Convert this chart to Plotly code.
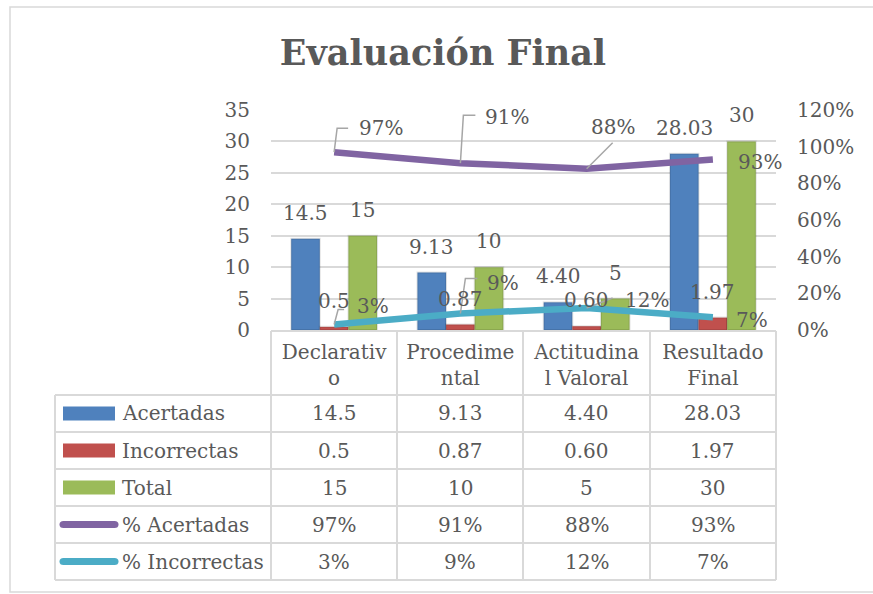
import plotly.graph_objects as go

# ---------------- data ----------------
categories = ["Declarativo", "Procedimental", "Actitudinal Valoral", "Resultado Final"]
tick_labels = ["Declarativ<br>o", "Procedime<br>ntal", "Actitudina<br>l Valoral", "Resultado<br>Final"]

acertadas = [14.5, 9.13, 4.40, 28.03]
acertadas_text = ["14.5", "9.13", "4.40", "28.03"]
incorrectas = [0.5, 0.87, 0.60, 1.97]
incorrectas_text = ["0.5", "0.87", "0.60", "1.97"]
total = [15, 10, 5, 30]
total_text = ["15", "10", "5", "30"]
pct_acertadas = [0.97, 0.91, 0.88, 0.93]
pct_incorrectas = [0.03, 0.09, 0.12, 0.07]

series_names = ["Acertadas", "Incorrectas", "Total", "% Acertadas", "% Incorrectas"]
left_ticks = [0, 5, 10, 15, 20, 25, 30, 35]
right_ticks = [0, 0.2, 0.4, 0.6, 0.8, 1.0, 1.2]

# ---------------- style / layout ----------------
W, H = 873, 594
PL, PR, PT, PB = 271, 776, 110, 330       # plot area in pixels
FONT = "DejaVu Serif"
TXT = "#595959"
GRID = "#D9D9D9"
BLUE, RED, GREEN = "#4F81BD", "#C0504D", "#9BBB59"
PURPLE, CYAN = "#8064A2", "#4BACC6"
BARGAP = 0.32


def px2x(px):
    return (px - PL) / (PR - PL)


def py2y(py):
    return (PB - py) / (PB - PT)


fig = go.Figure()

bar_series = [
    (acertadas, acertadas_text, series_names[0], BLUE),
    (incorrectas, incorrectas_text, series_names[1], RED),
    (total, total_text, series_names[2], GREEN),
]
for vals, _, name, col in bar_series:
    fig.add_trace(go.Bar(x=categories, y=vals, name=name,
                         marker=dict(color=col, line=dict(width=2, color="rgba(0,0,0,0.10)")),
                         showlegend=False, hoverinfo="skip"))

fig.add_trace(go.Scatter(x=categories, y=pct_acertadas, yaxis="y2", mode="lines",
                         line=dict(color=PURPLE, width=6.5), showlegend=False, name=series_names[3]))
fig.add_trace(go.Scatter(x=categories, y=pct_incorrectas, yaxis="y2", mode="lines",
                         line=dict(color=CYAN, width=6.5), showlegend=False, name=series_names[4]))

annotations = []
shapes = []

# bar data labels
cat_px = (PR - PL) / len(categories)
bw = cat_px * (1 - BARGAP) / 3
for j, (vals, texts, _, _) in enumerate(bar_series):
    for k, (v, t) in enumerate(zip(vals, texts)):
        annotations.append(dict(x=k, y=v, xref="x", yref="y", text=t, showarrow=False,
                                xanchor="center", yanchor="middle", xshift=(j - 1) * bw, yshift=26,
                                font=dict(family=FONT, size=20, color=TXT)))

# line labels: (xanchor, xshift, yshift, leader path in pixels relative to point)
acc_label_pos = [
    ("left", 23, 24, "M0,0 L3,24 L14,24"),
    ("left", 23, 46, "M0,0 L3,48 L15,48"),
    ("center", 26, 42, "M0,0 L26,26"),
    ("center", 47, -2, None),
]
inc_label_pos = [
    ("center", 39, 19, "M0,0 L4,15 L10,15"),
    ("left", 25, 31, "M0,0 L5,35 L17,35"),
    ("center", 60, 8, "M0,0 L26,10"),
    ("center", 39, -3, None),
]
for vals, pos in ((pct_acertadas, acc_label_pos), (pct_incorrectas, inc_label_pos)):
    for k, (v, (xa, xs, ys, path)) in enumerate(zip(vals, pos)):
        if path:
            shapes.append(dict(type="path", xref="x", yref="y2", xsizemode="pixel", ysizemode="pixel",
                               xanchor=k, yanchor=v, path=path, line=dict(color="#A6A6A6", width=1.5),
                               layer="above"))
        annotations.append(dict(x=k, y=v, xref="x", yref="y2", text=f"{v:.0%}", showarrow=False,
                                xanchor=xa, yanchor="middle", xshift=xs, yshift=ys,
                                font=dict(family=FONT, size=20, color=TXT)))

# ---------------- data table ----------------
row_edges = [395, 432, 469, 506, 543, 580]
col_edges_px = [271, 397, 523, 650, 776]
TABLE_L = 55
line_style = dict(color=GRID, width=2)
# horizontal lines
shapes.append(dict(type="line", xref="paper", yref="paper", x0=px2x(271), x1=px2x(776),
                   y0=py2y(331), y1=py2y(331), line=line_style))
for ry in row_edges:
    shapes.append(dict(type="line", xref="paper", yref="paper", x0=px2x(TABLE_L), x1=px2x(776),
                       y0=py2y(ry), y1=py2y(ry), line=line_style))
# vertical lines
shapes.append(dict(type="line", xref="paper", yref="paper", x0=px2x(TABLE_L), x1=px2x(TABLE_L),
                   y0=py2y(row_edges[0]), y1=py2y(row_edges[-1]), line=line_style))
for cx in col_edges_px:
    shapes.append(dict(type="line", xref="paper", yref="paper", x0=px2x(cx), x1=px2x(cx),
                       y0=py2y(331), y1=py2y(row_edges[-1]), line=line_style))

table_rows = [
    (series_names[0], acertadas_text, BLUE, "bar"),
    (series_names[1], incorrectas_text, RED, "bar"),
    (series_names[2], total_text, GREEN, "bar"),
    (series_names[3], [f"{v:.0%}" for v in pct_acertadas], PURPLE, "line"),
    (series_names[4], [f"{v:.0%}" for v in pct_incorrectas], CYAN, "line"),
]
for r, (name, texts, col, kind) in enumerate(table_rows):
    cy = (row_edges[r] + row_edges[r + 1]) / 2
    if kind == "bar":
        shapes.append(dict(type="rect", xref="paper", yref="paper", x0=px2x(63), x1=px2x(115),
                           y0=py2y(cy - 7), y1=py2y(cy + 7), fillcolor=col, line=dict(width=0)))
    else:
        x0, x1, hh = 60, 118, 3.5
        path = (f"M{px2x(x0 + hh)},{py2y(cy - hh)} L{px2x(x1 - hh)},{py2y(cy - hh)} "
                f"Q{px2x(x1 + 0.5)},{py2y(cy - hh)} {px2x(x1 + 0.5)},{py2y(cy)} "
                f"Q{px2x(x1 + 0.5)},{py2y(cy + hh)} {px2x(x1 - hh)},{py2y(cy + hh)} "
                f"L{px2x(x0 + hh)},{py2y(cy + hh)} "
                f"Q{px2x(x0 - 0.5)},{py2y(cy + hh)} {px2x(x0 - 0.5)},{py2y(cy)} "
                f"Q{px2x(x0 - 0.5)},{py2y(cy - hh)} {px2x(x0 + hh)},{py2y(cy - hh)} Z")
        shapes.append(dict(type="path", xref="paper", yref="paper", path=path, fillcolor=col,
                           line=dict(width=0)))
    annotations.append(dict(x=px2x(120), y=py2y(cy), xref="paper", yref="paper", text=name,
                            showarrow=False, xanchor="left", yanchor="middle",
                            font=dict(family=FONT, size=20, color=TXT)))
    for k, t in enumerate(texts):
        annotations.append(dict(x=k, y=py2y(cy), xref="x", yref="paper", text=t, showarrow=False,
                                xanchor="center", yanchor="middle",
                                font=dict(family=FONT, size=20, color=TXT)))

# outer chart border (right side runs off the canvas, as in the reference)
shapes.append(dict(type="rect", xref="paper", yref="paper", x0=px2x(10), x1=px2x(920),
                   y0=py2y(592), y1=py2y(7), line=dict(color=GRID, width=1.5), layer="below"))

fig.update_layout(
    width=W, height=H,
    margin=dict(l=PL, r=W - PR, t=PT, b=H - PB, pad=0),
    paper_bgcolor="white", plot_bgcolor="white",
    barmode="group", bargap=BARGAP, bargroupgap=0,
    font=dict(family=FONT, size=20, color=TXT),
    title=dict(text="<b>Evaluación Final</b>", xref="container", yref="container",
               x=443 / W, y=1 - 53 / H, xanchor="center", yanchor="middle",
               font=dict(family=FONT, size=35, color=TXT)),
    xaxis=dict(type="category", range=[-0.5, 3.5], tickvals=categories, ticktext=tick_labels,
               ticks="", showgrid=False, showline=False, zeroline=False,
               tickfont=dict(family=FONT, size=20, color=TXT), ticklabelstandoff=8),
    yaxis=dict(range=[0, 35], tickvals=left_ticks, showgrid=True, gridcolor=GRID, gridwidth=1.5,
               zeroline=False, showline=False, ticks="", ticklabelstandoff=20,
               tickfont=dict(family=FONT, size=20, color=TXT)),
    yaxis2=dict(range=[0, 1.2], tickvals=right_ticks, tickformat=".0%", overlaying="y", side="right",
                showgrid=False, zeroline=False, showline=False, ticks="", ticklabelstandoff=20,
                tickfont=dict(family=FONT, size=20, color=TXT)),
    annotations=annotations,
    shapes=shapes,
)

fig.write_html("out.html", config={"displayModeBar": False},
               post_script="document.body.style.margin='0';document.body.style.overflow='hidden';")
